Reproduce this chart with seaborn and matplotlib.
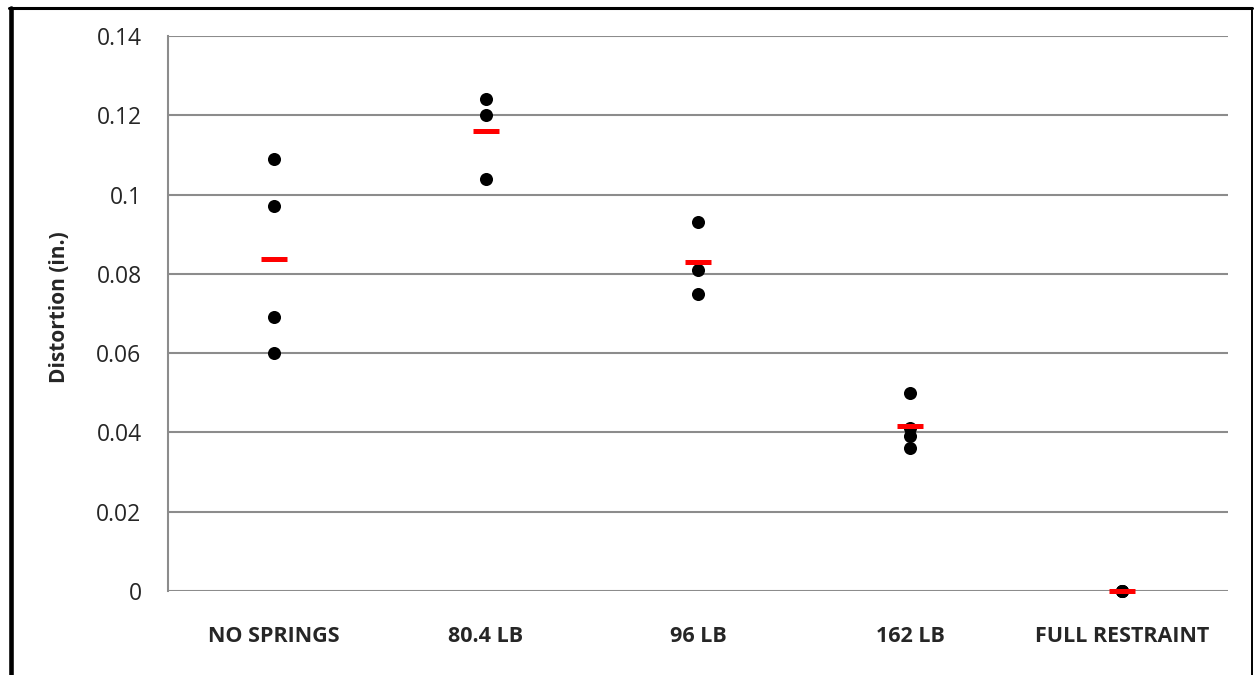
import pandas as pd
import numpy as np
import matplotlib.pyplot as plt
from matplotlib.lines import Line2D
import seaborn as sns

# measured distortions per restraint level (in.)
no_springs = [0.109, 0.097, 0.069, 0.060]
lb_80_4 = [0.124, 0.120, 0.104]
lb_96 = [0.093, 0.081, 0.075]
lb_162 = [0.050, 0.041, 0.039, 0.036]
full_restraint = [0.0, 0.0, 0.0]

categories = ['NO SPRINGS', '80.4 LB', '96 LB', '162 LB', 'FULL RESTRAINT']
y_ticks = [0, 0.02, 0.04, 0.06, 0.08, 0.1, 0.12, 0.14]
y_tick_labels = ['0', '0.02', '0.04', '0.06', '0.08', '0.1', '0.12', '0.14']

groups = [no_springs, lb_80_4, lb_96, lb_162, full_restraint]
df = pd.DataFrame({
    'condition': [c for c, g in zip(categories, groups) for _ in g],
    'distortion': [v for g in groups for v in g],
})

sns.set_style('white')
plt.rcParams['font.family'] = ['Open Sans', 'DejaVu Sans']

fig = plt.figure(figsize=(12.57, 6.75), dpi=100)
ax = fig.add_axes([168 / 1257, 84 / 675, 1060 / 1257, 555 / 675])

sns.stripplot(data=df, x='condition', y='distortion', order=categories,
              jitter=False, color='black', size=9.4, linewidth=0, ax=ax, zorder=3)
sns.pointplot(data=df, x='condition', y='distortion', order=categories,
              estimator='mean', errorbar=None, linestyle='none', color='red',
              markers='_', markersize=19, markeredgewidth=3.6, ax=ax, zorder=4)
for ln in ax.lines:
    ln.set_clip_on(False)
for coll in ax.collections:
    coll.set_clip_on(False)

ax.set_xlim(-0.5, 4.5)
ax.set_ylim(0, 0.14)
ax.set_yticks(y_ticks, y_tick_labels)
ax.set_xticks(range(len(categories)), categories, fontweight='bold', fontsize=15.5)
ax.tick_params(axis='y', labelsize=16.5, pad=19, length=0)
ax.tick_params(axis='x', pad=25, length=0)
ax.yaxis.grid(True, color='#8c8c8c', linewidth=1.5)
ax.set_axisbelow(True)
for s in ['top', 'right', 'bottom']:
    ax.spines[s].set_visible(False)
ax.spines['left'].set_color('#8c8c8c')
ax.spines['left'].set_linewidth(1.5)
ax.set_xlabel('')
ax.set_ylabel('Distortion (in.)', fontsize=15, fontweight='bold')
ax.yaxis.set_label_coords(-0.0925, 0.511)

# frame around the chart area
fig.add_artist(Line2D([10.5 / 1257, 10.5 / 1257], [0, 1 - 7.5 / 675],
                      transform=fig.transFigure, color='black', linewidth=3.3))
fig.add_artist(Line2D([8.5 / 1257, 1252 / 1257], [1 - 7.5 / 675, 1 - 7.5 / 675],
                      transform=fig.transFigure, color='black', linewidth=2.2))
fig.add_artist(Line2D([1252 / 1257, 1252 / 1257], [0, 1 - 7.5 / 675],
                      transform=fig.transFigure, color='black', linewidth=1.4))

fig.savefig('out.png', dpi=100)
